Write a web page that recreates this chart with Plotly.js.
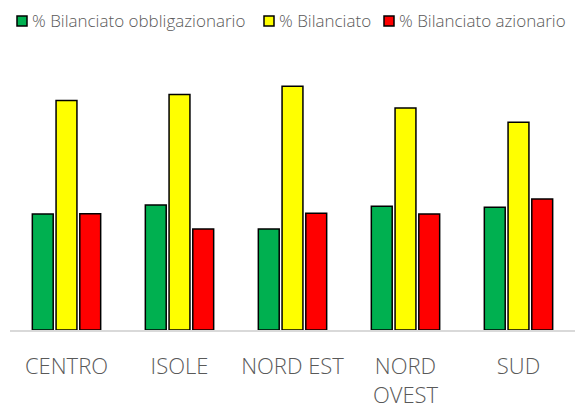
<!DOCTYPE html>
<html>
<head>
<meta charset="utf-8">
<script src="https://cdn.plot.ly/plotly-3.0.1.min.js"></script>
<style>html,body{margin:0;padding:0;background:#fff;}#chart{width:579px;height:408px;}</style>
</head>
<body>
<div id="chart"></div>
<script>
const categories = ["CENTRO", "ISOLE", "NORD EST", "NORD<br>OVEST", "SUD"];
const seriesNames = ["% Bilanciato obbligazionario", "% Bilanciato", "% Bilanciato azionario"];
const obbligazionario = [25.1, 27.1, 21.9, 26.8, 26.6];
const bilanciato = [49.7, 51.0, 52.8, 48.1, 45.0];
const azionario = [25.2, 21.9, 25.3, 25.1, 28.4];
const colors = ["#00B050", "#FFFF00", "#FF0000"];

const W = 579, H = 408;
const M = { l: 10, r: 4, t: 53, b: 78 };
const values = [obbligazionario, bilanciato, azionario];
const traces = values.map((v, i) => ({
  type: "bar",
  name: seriesNames[i],
  x: categories,
  y: v,
  marker: { color: colors[i], line: { color: "#000000", width: 1.5 } },
  hoverinfo: "x+y+name"
}));

// legend built from shapes + annotations (pixel layout converted to paper coords)
const plotW = W - M.l - M.r, plotH = H - M.t - M.b;
const pxX = p => (p - M.l) / plotW;
const pxY = p => (H - M.b - p) / plotH;
const legendLeft = [17, 264, 384];
const legendCY = 21, sq = 10;
const shapes = [], annotations = [];
legendLeft.forEach((lx, i) => {
  shapes.push({
    type: "rect", xref: "paper", yref: "paper",
    x0: pxX(lx), x1: pxX(lx + sq), y0: pxY(legendCY + sq / 2), y1: pxY(legendCY - sq / 2),
    fillcolor: colors[i], line: { color: "#000000", width: 1.5 }
  });
  annotations.push({
    xref: "paper", yref: "paper", x: pxX(lx + sq + 3), y: pxY(legendCY),
    xanchor: "left", yanchor: "middle", showarrow: false,
    text: seriesNames[i],
    font: { family: "Open Sans", weight: 300, size: 17, color: "#595959" }
  });
});

const layout = {
  width: W,
  height: H,
  margin: M,
  paper_bgcolor: "#ffffff",
  plot_bgcolor: "#ffffff",
  font: { family: "Open Sans, sans-serif", weight: 300, color: "#595959" },
  barmode: "group",
  bargap: 0.37,
  bargroupgap: 0.12,
  showlegend: false,
  shapes: shapes,
  annotations: annotations,
  xaxis: {
    showline: true, linecolor: "#D9D9D9", linewidth: 1.5,
    ticks: "", showgrid: false, zeroline: false,
    ticklabelstandoff: 16,
    tickfont: { family: "Open Sans", weight: 300, size: 22, color: "#595959" }
  },
  yaxis: {
    range: [0, 60], visible: false, showgrid: false, zeroline: false
  }
};

Plotly.newPlot("chart", traces, layout, { displayModeBar: false, staticPlot: true });
</script>
</body>
</html>
